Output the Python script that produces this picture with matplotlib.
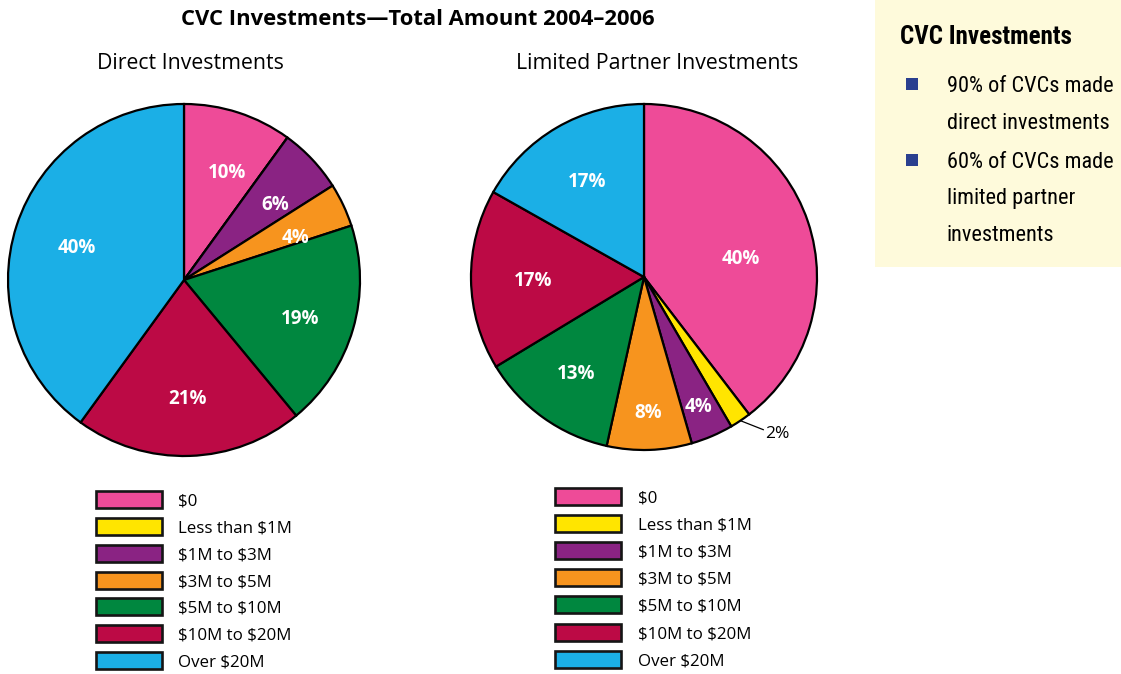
import matplotlib
matplotlib.use("Agg")
import matplotlib.pyplot as plt
from matplotlib.patches import Rectangle
from matplotlib import font_manager
import numpy as np

plt.rcParams["text.parse_math"] = False

# ---------------- data ----------------
categories = ["$0", "Less than $1M", "$1M to $3M", "$3M to $5M",
              "$5M to $10M", "$10M to $20M", "Over $20M"]
direct_values = [10, 0, 6, 4, 19, 21, 40]
lp_values = [40, 2, 4, 8, 13, 17, 17]
colors = ["#EE4B98", "#FFE500", "#8A2383", "#F7941E",
          "#00873F", "#BC0A45", "#1BAFE6"]
title = "CVC Investments\u2014Total Amount 2004\u20132006"
sub_direct = "Direct Investments"
sub_lp = "Limited Partner Investments"
side_title = "CVC Investments"
side_bullets = [["90% of CVCs made", "direct investments"],
                ["60% of CVCs made", "limited partner", "investments"]]

# ---------------- fonts ----------------
names = {f.name for f in font_manager.fontManager.ttflist}
main_font = "Open Sans" if "Open Sans" in names else "DejaVu Sans"
narrow = None
for cand in ["Liberation Sans Narrow", "DejaVu Sans Condensed", "Roboto Condensed"]:
    if cand in names:
        narrow = cand
        break

W, H = 1121, 674
TXT_DROP = 2.5  # visual centring correction for va='center' text
fig = plt.figure(figsize=(W / 100, H / 100), dpi=100)
ax = fig.add_axes([0, 0, 1, 1])


def Y(y):
    return H - y


def TY(y):
    return H - y - TXT_DROP


# sidebar
ax.add_patch(Rectangle((875, Y(267)), W - 875, 267, facecolor="#FEFADB",
                       edgecolor="none", zorder=0))

# titles
ax.text(418, TY(17), title, ha="center", va="center", fontsize=15.8,
        fontweight="bold", family=main_font)
ax.text(190, TY(61), sub_direct, ha="center", va="center", fontsize=15.3,
        family=main_font)
ax.text(657, TY(61), sub_lp, ha="center", va="center", fontsize=15.3,
        family=main_font)


def draw_pie(values, cx, cy, r, dists, dangs):
    wedges, _ = ax.pie(values, colors=colors, startangle=90, counterclock=False,
                       center=(cx, Y(cy)), radius=r, normalize=True,
                       wedgeprops=dict(edgecolor="black", linewidth=1.6))
    tot = sum(values)
    for w, v, d, da in zip(wedges, values, dists, dangs):
        if d is None or v == 0:
            continue
        th = np.deg2rad((w.theta1 + w.theta2) / 2 + da)
        ax.text(cx + d * r * np.cos(th), Y(cy) + d * r * np.sin(th) - TXT_DROP,
                f"{round(100 * v / tot)}%", ha="center", va="center",
                color="white", fontsize=13.5, fontweight="bold", family=main_font)
    return wedges


draw_pie(direct_values, 184, 280, 176,
         [0.67, None, 0.68, 0.68, 0.69, 0.66, 0.64],
         [-3.5, 0, -3, -3.5, -1.5, 0, 0])
lp_w = draw_pie(lp_values, 644, 277, 173,
                [0.57, None, 0.80, 0.77, 0.67, 0.64, 0.65],
                [-7, 0, 0, 0, 0, 0, 0])

# 2% outside label
w = lp_w[1]
th = np.deg2rad((w.theta1 + w.theta2) / 2)
cx, cy, r = 644, Y(277), 173
p0 = (cx + r * np.cos(th), cy + r * np.sin(th))
th2 = np.deg2rad(-52)
p1 = (cx + 1.12 * r * np.cos(th2), cy + 1.12 * r * np.sin(th2))
ax.plot([p0[0], p1[0]], [p0[1], p1[1]], color="black", lw=0.9)
ax.text(p1[0] + 2, p1[1] - 2 - TXT_DROP, f"{lp_values[1]}%", ha="left",
        va="center", fontsize=12.5, family=main_font)


# legends
def legend(x_box, x_text, ys):
    for cat, col, yy in zip(categories, colors, ys):
        ax.add_patch(Rectangle((x_box, Y(yy) - 8.5), 66, 17, facecolor=col,
                               edgecolor="#151515", linewidth=1.9, zorder=3))
        ax.text(x_text, TY(yy), cat, ha="left", va="center", fontsize=12.2,
                family=main_font)


legend(96, 178, [499, 526, 553, 580, 606, 633, 660])
legend(555, 638, [496, 523, 550, 577, 604, 632, 659])

# sidebar text
sfont = narrow if narrow else main_font
ax.text(900, TY(35), side_title, ha="left", va="center", fontsize=18,
        fontweight="bold", family=sfont)
line_y = [[84, 121], [160, 196, 233]]
for lines, ys in zip(side_bullets, line_y):
    ax.add_patch(Rectangle((906, Y(ys[0]) - 6), 12, 12, facecolor="#2A3F8F",
                           edgecolor="none"))
    for t, yy in zip(lines, ys):
        ax.text(947, TY(yy), t, ha="left", va="center", fontsize=16,
                family=sfont)

ax.set_xlim(0, W)
ax.set_ylim(0, H)
ax.set_aspect("equal")
ax.axis("off")
fig.savefig("out.png", dpi=100)
